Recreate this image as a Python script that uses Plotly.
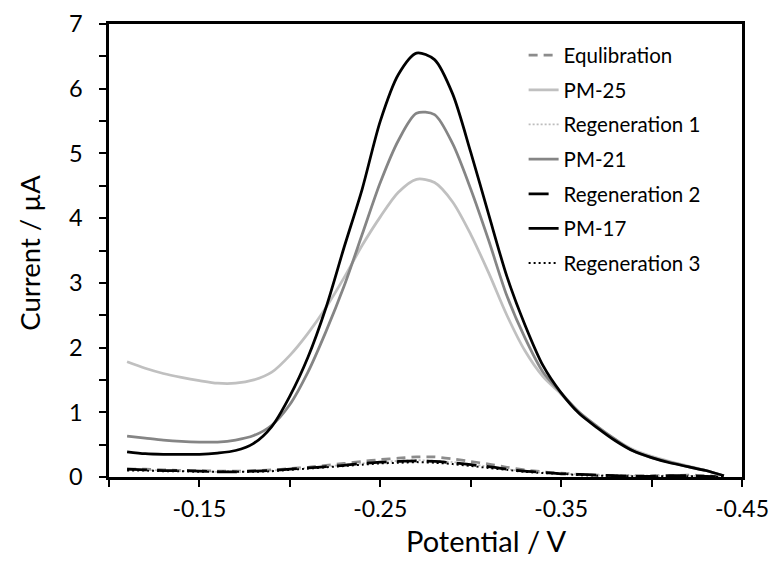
import plotly.graph_objects as go

# Potential (V)
potential = [-0.11, -0.12, -0.13, -0.14, -0.15, -0.16, -0.17, -0.18, -0.19, -0.20,
             -0.21, -0.22, -0.23, -0.24, -0.25, -0.26, -0.27, -0.28, -0.29, -0.30,
             -0.31, -0.32, -0.33, -0.34, -0.35, -0.36, -0.37, -0.38, -0.39, -0.40,
             -0.41, -0.42, -0.43, -0.44]

equilibration = [0.12, 0.12, 0.11, 0.10, 0.10, 0.09, 0.09, 0.10, 0.11, 0.13,
                 0.15, 0.18, 0.21, 0.24, 0.27, 0.29, 0.31, 0.31, 0.28, 0.24,
                 0.20, 0.15, 0.11, 0.08, 0.06, 0.04, 0.03, 0.02, 0.02, 0.02,
                 0.02, 0.03, 0.02, 0.00]
pm25 = [1.78, 1.68, 1.60, 1.54, 1.49, 1.45, 1.45, 1.50, 1.62, 1.88,
        2.22, 2.62, 3.08, 3.58, 4.02, 4.40, 4.60, 4.55, 4.25, 3.75,
        3.15, 2.50, 1.95, 1.55, 1.28, 1.00, 0.78, 0.58, 0.42, 0.32,
        0.24, 0.17, 0.10, 0.02]
regeneration1 = [0.11, 0.11, 0.10, 0.09, 0.09, 0.08, 0.08, 0.09, 0.10, 0.12,
                 0.14, 0.16, 0.19, 0.21, 0.23, 0.25, 0.26, 0.25, 0.23, 0.20,
                 0.16, 0.12, 0.09, 0.07, 0.05, 0.04, 0.03, 0.02, 0.02, 0.02,
                 0.02, 0.02, 0.01, 0.00]
pm21 = [0.63, 0.60, 0.57, 0.55, 0.54, 0.54, 0.57, 0.64, 0.80, 1.12,
        1.62, 2.25, 2.95, 3.75, 4.55, 5.20, 5.62, 5.60, 5.15, 4.45,
        3.65, 2.80, 2.15, 1.62, 1.30, 1.00, 0.78, 0.58, 0.40, 0.30,
        0.23, 0.16, 0.10, 0.02]
regeneration2 = [0.12, 0.11, 0.10, 0.10, 0.09, 0.08, 0.08, 0.09, 0.10, 0.12,
                 0.14, 0.16, 0.18, 0.21, 0.23, 0.24, 0.25, 0.24, 0.22, 0.19,
                 0.16, 0.12, 0.09, 0.07, 0.05, 0.04, 0.03, 0.02, 0.01, 0.01,
                 0.02, 0.02, 0.01, 0.00]
pm17 = [0.39, 0.36, 0.35, 0.35, 0.35, 0.37, 0.41, 0.52, 0.78, 1.25,
        1.85, 2.62, 3.55, 4.45, 5.50, 6.22, 6.55, 6.45, 5.92, 5.02,
        4.05, 3.10, 2.35, 1.72, 1.30, 0.98, 0.76, 0.56, 0.40, 0.30,
        0.22, 0.16, 0.10, 0.02]
regeneration3 = [0.10, 0.10, 0.09, 0.09, 0.08, 0.08, 0.08, 0.08, 0.09, 0.11,
                 0.13, 0.15, 0.17, 0.19, 0.21, 0.22, 0.23, 0.22, 0.20, 0.17,
                 0.14, 0.11, 0.08, 0.06, 0.05, 0.03, 0.02, 0.02, 0.01, 0.01,
                 0.01, 0.01, 0.01, 0.00]

series_names = ["Equlibration", "PM-25", "Regeneration 1", "PM-21",
                "Regeneration 2", "PM-17", "Regeneration 3"]
series_values = [equilibration, pm25, regeneration1, pm21,
                 regeneration2, pm17, regeneration3]

x_tick_values = [-0.10, -0.15, -0.20, -0.25, -0.30, -0.35, -0.40, -0.45]
x_tick_labels = ["", "-0.15", "", "-0.25", "", "-0.35", "", "-0.45"]
y_tick_values = [0, 0.5, 1, 1.5, 2, 2.5, 3, 3.5, 4, 4.5, 5, 5.5, 6, 6.5, 7]
y_tick_labels = ["0", "", "1", "", "2", "", "3", "", "4", "", "5", "", "6", "", "7"]

styles = [
    dict(color="#8c8c8c", width=2.75, dash="9px,6px"),
    dict(color="#c0c0c0", width=2.75, dash="solid"),
    dict(color="#bdbdbd", width=1.75, dash="2px,2px"),
    dict(color="#858585", width=2.75, dash="solid"),
    dict(color="#000000", width=2.75, dash="20px,10px"),
    dict(color="#000000", width=2.75, dash="solid"),
    dict(color="#000000", width=2.0, dash="2px,3px"),
]

FONT = "Lato, 'Open Sans', sans-serif"

fig = go.Figure()
for name, vals, st in zip(series_names, series_values, styles):
    fig.add_trace(go.Scatter(
        x=potential, y=vals, name=name, mode="lines",
        line=dict(color=st["color"], width=st["width"], dash=st["dash"], shape="spline", smoothing=0.8),
        legendgroup=name,
    ))

fig.update_layout(
    template="none",
    width=775, height=561,
    margin=dict(l=109, r=33, t=24, b=84, autoexpand=False),
    paper_bgcolor="white", plot_bgcolor="white",
    font=dict(family=FONT, color="black"),
    showlegend=True,
    legend=dict(x=0.655, y=0.975, xanchor="left", yanchor="top",
                font=dict(size=20.5, family=FONT, color="black"),
                bgcolor="rgba(0,0,0,0)", tracegroupgap=5, itemwidth=30),
    xaxis=dict(range=[-0.10, -0.45], tickvals=x_tick_values, ticktext=x_tick_labels,
               ticks="outside", ticklen=7, tickwidth=2, tickcolor="black",
               showline=True, linecolor="black", linewidth=2.5, mirror=True,
               showgrid=False, zeroline=False, ticklabelstandoff=3, automargin=False,
               tickfont=dict(size=23, family=FONT, color="black")),
    yaxis=dict(range=[0, 7], tickvals=y_tick_values, ticktext=y_tick_labels,
               ticks="outside", ticklen=7, tickwidth=2, tickcolor="black",
               showline=True, linecolor="black", linewidth=2.5, mirror=True,
               showgrid=False, zeroline=False, ticklabelstandoff=12, automargin=False,
               tickfont=dict(size=23.5, family=FONT, color="black")),
    annotations=[
        dict(text="Potential / V", xref="paper", yref="paper", x=0.596, y=-0.141,
             xanchor="center", yanchor="middle", showarrow=False,
             font=dict(size=29, family=FONT, color="black")),
        dict(text="Current / µA", xref="paper", yref="paper", x=-0.125, y=0.495,
             xanchor="center", yanchor="middle", showarrow=False, textangle=-90,
             font=dict(size=27.5, family=FONT, color="black")),
    ],
)

fig.write_html("out.html", config={"displayModeBar": False},
               post_script="document.body.style.margin='0';document.body.style.overflow='hidden';")
